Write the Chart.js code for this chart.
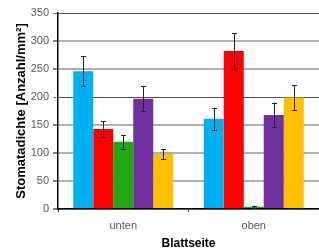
<!DOCTYPE html>
<html>
<head>
<meta charset="utf-8">
<script src="https://cdn.jsdelivr.net/npm/chart.js@4/dist/chart.umd.min.js"></script>
<style>
  html, body { margin: 0; padding: 0; background: #fff; }
  #wrap { width: 319px; height: 250px; position: relative; }
</style>
</head>
<body>
<div id="wrap"><canvas id="chart"></canvas></div>
<script>
const categories = ['unten', 'oben'];
const yTicks = [0, 50, 100, 150, 200, 250, 300, 350];

const blueValues = [246, 161];
const redValues = [143, 282];
const greenValues = [120, 4];
const purpleValues = [197, 168];
const yellowValues = [98, 199];

const blueErrors = [27, 20];
const redErrors = [14, 32];
const greenErrors = [12, 2];
const purpleErrors = [22, 22];
const yellowErrors = [9, 22];

const colors = ['#00B0F0', '#FF0000', '#22A812', '#7030A0', '#FFC000'];

const series = [
  { data: blueValues, err: blueErrors },
  { data: redValues, err: redErrors },
  { data: greenValues, err: greenErrors },
  { data: purpleValues, err: purpleErrors },
  { data: yellowValues, err: yellowErrors }
];

// draws the +/- error whiskers on top of each bar
const errorBars = {
  id: 'errorBars',
  afterDatasetsDraw(chart) {
    const { ctx } = chart;
    const y = chart.scales.y;
    ctx.save();
    ctx.strokeStyle = '#222';
    ctx.lineWidth = 1;
    chart.data.datasets.forEach((ds, i) => {
      const meta = chart.getDatasetMeta(i);
      meta.data.forEach((bar, j) => {
        const v = ds.data[j];
        const e = ds.errors[j];
        const x = Math.round(bar.x) + 0.5;
        const top = y.getPixelForValue(v + e);
        const bottom = y.getPixelForValue(v - e);
        ctx.beginPath();
        ctx.moveTo(x, top);
        ctx.lineTo(x, bottom);
        ctx.moveTo(x - 2.5, Math.round(top) + 0.5);
        ctx.lineTo(x + 2.5, Math.round(top) + 0.5);
        ctx.moveTo(x - 2.5, Math.round(bottom) + 0.5);
        ctx.lineTo(x + 2.5, Math.round(bottom) + 0.5);
        ctx.stroke();
      });
    });
    ctx.restore();
  }
};

const darkLine = v => v === 350 || v === 200;

new Chart(document.getElementById('chart'), {
  type: 'bar',
  data: {
    labels: categories,
    datasets: series.map((s, i) => ({
      data: s.data,
      errors: s.err,
      backgroundColor: colors[i],
      borderWidth: 0,
      barPercentage: 1,
      categoryPercentage: 0.766
    }))
  },
  options: {
    responsive: true,
    maintainAspectRatio: false,
    animation: false,
    layout: { padding: { top: 13, right: 0, left: 14, bottom: 0 } },
    plugins: {
      legend: { display: false },
      tooltip: { enabled: false }
    },
    scales: {
      x: {
        afterFit(scale) { scale.height = 41; },
        grid: {
          offset: true,
          drawOnChartArea: false,
          color: '#404040',
          tickLength: 3
        },
        border: { color: '#000', width: 1.5 },
        ticks: {
          color: '#595959',
          font: { family: 'Liberation Sans, Arial, sans-serif', size: 11 },
          padding: 7
        },
        title: {
          display: true,
          text: 'Blattseite',
          color: '#000',
          font: { family: 'Liberation Sans, Arial, sans-serif', size: 12, weight: 'bold' },
          padding: { top: 0, bottom: -1 }
        }
      },
      y: {
        min: 0,
        max: 350,
        afterFit(scale) { scale.width = 44; },
        afterBuildTicks(scale) {
          scale.ticks = yTicks.map(v => ({ value: v }));
        },
        grid: {
          color(ctx) {
            const v = ctx.tick ? ctx.tick.value : 0;
            return darkLine(v) ? '#505050' : '#b0b0b0';
          },
          lineWidth(ctx) {
            const v = ctx.tick ? ctx.tick.value : 0;
            return darkLine(v) ? 1 : 2;
          },
          tickLength: 5,
          tickColor: '#808080'
        },
        border: { color: '#000', width: 1.5 },
        ticks: {
          color: '#595959',
          font: { family: 'Liberation Sans, Arial, sans-serif', size: 11 },
          padding: 4
        },
        title: {
          display: true,
          text: 'Stomatadichte [Anzahl/mm²]',
          color: '#000',
          font: { family: 'Liberation Sans, Arial, sans-serif', size: 13, weight: 'bold' },
          padding: { top: 0, bottom: 1 }
        }
      }
    }
  },
  plugins: [errorBars]
});
</script>
</body>
</html>
